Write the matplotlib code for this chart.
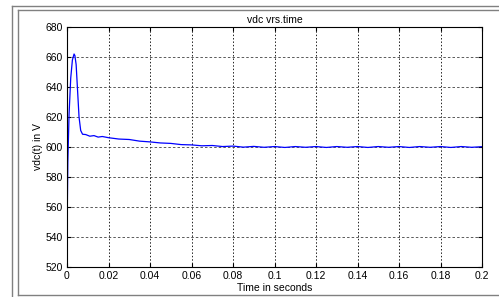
import matplotlib
matplotlib.use('Agg')
import matplotlib.pyplot as plt
from matplotlib.lines import Line2D

# vdc response
time_s = [0, 0.0004, 0.001, 0.0018, 0.0026, 0.0034, 0.0038, 0.0044, 0.005, 0.0058,
          0.0066, 0.0075, 0.009, 0.011, 0.013, 0.015, 0.017, 0.02, 0.025, 0.03,
          0.035, 0.04, 0.045, 0.05, 0.055, 0.06, 0.065, 0.07, 0.075, 0.08,
          0.085, 0.09, 0.095, 0.1, 0.105, 0.11, 0.115, 0.12, 0.125, 0.13,
          0.135, 0.14, 0.145, 0.15, 0.155, 0.16, 0.165, 0.17, 0.175, 0.18,
          0.185, 0.19, 0.195, 0.2]
vdc = [540, 590, 622, 646, 658, 662, 661, 655, 640, 620,
       611, 608.5, 608.3, 607.2, 607.6, 606.6, 607.0, 606.2, 605.3, 605.0,
       603.9, 603.4, 602.7, 602.4, 601.6, 601.4, 600.8, 601.0, 600.3, 600.6,
       599.9, 600.4, 599.8, 600.3, 599.7, 600.3, 599.8, 600.3, 599.7, 600.3,
       599.8, 600.3, 599.7, 600.3, 599.8, 600.3, 599.7, 600.3, 599.8, 600.3,
       599.7, 600.3, 599.8, 600.2]

x_ticks = [0, 0.02, 0.04, 0.06, 0.08, 0.1, 0.12, 0.14, 0.16, 0.18, 0.2]
x_labels = ['0', '0.02', '0.04', '0.06', '0.08', '0.1', '0.12', '0.14', '0.16', '0.18', '0.2']
y_ticks = [520, 540, 560, 580, 600, 620, 640, 660, 680]

W, H = 499, 297
plt.rcParams['font.family'] = ['Liberation Sans', 'DejaVu Sans']

fig = plt.figure(figsize=(W / 100, H / 100), dpi=100, facecolor='white')
ax = fig.add_axes([67 / W, 1 - 267 / H, (482 - 67) / W, (267 - 27) / H])

ax.plot(time_s, vdc, color='#0000FF', linewidth=0.9)

ax.set_xlim(0, 0.2)
ax.set_ylim(520, 680)
ax.set_xticks(x_ticks)
ax.set_xticklabels(x_labels)
ax.set_yticks(y_ticks)
ax.tick_params(direction='in', length=3, labelsize=7.5, top=True, right=True,
               colors='black', pad=3)
ax.xaxis.grid(True, color='#202020', linestyle=(0, (1.5, 2)), linewidth=0.7)
ax.yaxis.grid(True, color='#404040', linestyle=(0, (3, 2.5)), linewidth=0.6)
for s in ax.spines.values():
    s.set_linewidth(0.8)

ax.set_title('vdc vrs.time', fontsize=7.5, pad=3)
ax.set_xlabel('Time in seconds', fontsize=7.5, labelpad=1)
ax.set_ylabel('vdc(t) in V', fontsize=7.5, labelpad=2)

# window-style double frame around the figure
def fline(x0, y0, x1, y1, c, lw=1.0):
    fig.add_artist(Line2D([x0 / W, x1 / W], [1 - y0 / H, 1 - y1 / H],
                          transform=fig.transFigure, color=c, linewidth=lw))

fline(12, 6, W, 6, '#808080')
fline(12, 6, 12, H, '#808080')
fline(18, 10, W, 10, '#808080')
fline(18, 10, 18, 295, '#808080')
fline(18, 295, W, 295, '#808080')

fig.savefig('out.png', dpi=100, facecolor='white')
